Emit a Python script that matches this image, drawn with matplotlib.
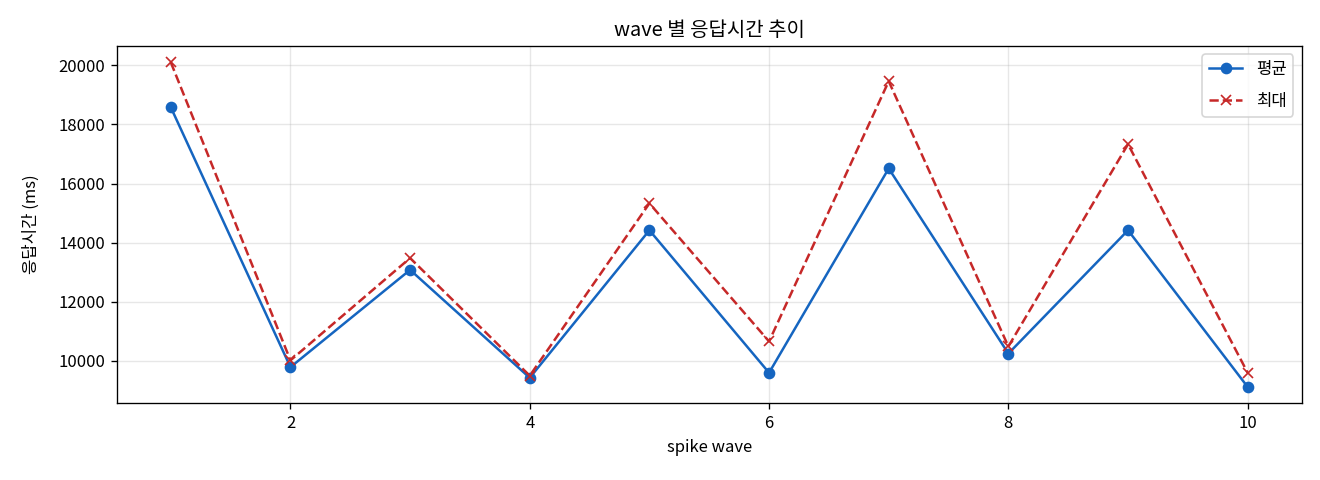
import matplotlib
matplotlib.use("Agg")
import matplotlib.pyplot as plt

plt.rcParams["font.family"] = ["Noto Sans CJK KR", "DejaVu Sans"]
plt.rcParams["axes.unicode_minus"] = False

waves = [1, 2, 3, 4, 5, 6, 7, 8, 9, 10]
avg_ms = [18580, 9790, 13080, 9430, 14420, 9600, 16510, 10250, 14420, 9120]
max_ms = [20100, 10020, 13480, 9500, 15330, 10660, 19460, 10490, 17330, 9600]

fig, ax = plt.subplots(figsize=(11, 4), dpi=120)
ax.plot(waves, avg_ms, marker="o", color="#1565C0", label="평균")
ax.plot(waves, max_ms, marker="x", ls="--", color="#C62828", label="최대")

ax.set_title("wave 별 응답시간 추이")
ax.set_xlabel("spike wave")
ax.set_ylabel("응답시간 (ms)", labelpad=11)
ax.grid(True, alpha=0.3)
ax.legend(labelspacing=0.9)

fig.subplots_adjust(left=0.0886, right=0.986, top=0.904, bottom=0.16)
fig.savefig("out.png")
